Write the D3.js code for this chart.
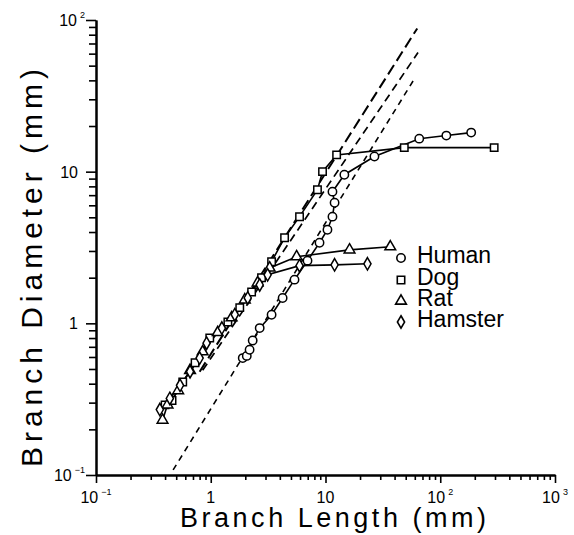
<!DOCTYPE html>
<html><head><meta charset="utf-8">
<script src="https://cdn.jsdelivr.net/npm/d3@7"></script>
<style>body{margin:0;background:#fff} svg{display:block}</style>
</head><body>
<svg id="c" width="574" height="535"></svg>
<script>
// ---- data (branch length mm, branch diameter mm) ----
const humanL = [1.90, 2.06, 2.18, 2.32, 2.67, 3.39, 4.23, 5.37, 6.97, 8.87, 10.4, 11.5, 12.0, 11.5, 14.6, 26.7, 65.6, 113, 186];
const humanD = [0.59, 0.61, 0.67, 0.77, 0.93, 1.14, 1.47, 1.94, 2.59, 3.40, 4.14, 5.05, 6.24, 7.38, 9.55, 12.6, 16.5, 17.3, 18.1];
const dogL = [0.40, 0.46, 0.57, 0.73, 0.98, 1.41, 1.79, 2.27, 2.77, 3.39, 4.40, 5.94, 8.51, 9.42, 12.5, 48.6, 295];
const dogD = [0.29, 0.31, 0.41, 0.55, 0.80, 1.02, 1.27, 1.61, 2.00, 2.55, 3.67, 5.05, 7.60, 10.0, 12.9, 14.4, 14.4];
const ratL = [0.38, 0.42, 0.52, 0.66, 0.85, 1.15, 1.52, 1.98, 2.56, 3.26, 5.60, 16.2, 36.7];
const ratD = [0.23, 0.29, 0.36, 0.49, 0.65, 0.87, 1.09, 1.43, 1.85, 2.32, 2.75, 3.05, 3.20];
const hamsterL = [0.36, 0.44, 0.54, 0.66, 0.80, 0.92, 1.25, 1.62, 2.10, 2.67, 3.13, 5.94, 12.0, 23.2];
const hamsterD = [0.27, 0.32, 0.39, 0.48, 0.59, 0.74, 0.93, 1.14, 1.47, 1.79, 2.09, 2.40, 2.43, 2.47];
// dashed fit lines (endpoints)
const fitAL = [0.80, 63], fitAD = [0.48, 88];
const fitBL = [0.85, 64], fitBD = [0.49, 61];
const fitCL = [0.47, 59], fitCD = [0.108, 40.5];

const seriesNames = ["Human", "Dog", "Rat", "Hamster"];
const xMajor = [0.1, 1, 10, 100, 1000];
const xMajorBase = ["10", "1", "10", "10", "10"];
const xMajorSup = ["\u22121", "", "", "2", "3"];
const yMajor = [0.1, 1, 10, 100];
const yMajorBase = ["10", "1", "10", "10"];
const yMajorSup = ["\u22121", "", "", "2"];
const xTitle = "Branch Length (mm)";
const yTitle = "Branch Diameter (mm)";

// ---- drawing ----
const svg = d3.select("#c");
const FONT = "'Liberation Sans', Arial, sans-serif";
const x = d3.scaleLog().domain([0.1, 1000]).range([96, 555]);
const y = d3.scaleLog().domain([0.1, 100]).range([475, 20]);

function minorTicks(dom) {
  const out = [];
  for (let e = Math.log10(dom[0]); e < Math.log10(dom[1]); e++)
    for (let k = 2; k <= 9; k++) out.push(k * Math.pow(10, e));
  return out;
}

// axes
const gx = svg.append("g").attr("transform", "translate(0,475)");
gx.call(d3.axisBottom(x).tickValues(minorTicks(x.domain())).tickSize(5).tickSizeOuter(0).tickFormat(""));
gx.append("g").call(d3.axisBottom(x).tickValues(xMajor).tickSize(8).tickSizeOuter(0).tickFormat(""));
const gy = svg.append("g").attr("transform", "translate(96,0)");
gy.call(d3.axisLeft(y).tickValues(minorTicks(y.domain())).tickSize(7).tickSizeOuter(0).tickFormat(""));
gy.append("g").call(d3.axisLeft(y).tickValues(yMajor).tickSize(10).tickSizeOuter(0).tickFormat(""));
svg.selectAll(".domain").attr("stroke", "#000").attr("stroke-width", 2);
svg.selectAll(".tick line").attr("stroke", "#000").attr("stroke-width", 1.6);

// tick labels
xMajor.forEach((v, i) => {
  const t = svg.append("text").attr("x", x(v)).attr("y", 503)
    .attr("text-anchor", "middle").attr("font-family", FONT).attr("font-size", 16).attr("fill", "#000");
  t.append("tspan").text(xMajorBase[i]);
  if (xMajorSup[i]) t.append("tspan").attr("dx", 3).attr("dy", -8).attr("font-size", 9).text(xMajorSup[i]);
});
yMajor.forEach((v, i) => {
  const sup = yMajorSup[i];
  const t = svg.append("text").attr("x", sup ? 85 : 78).attr("y", y(v) + 6)
    .attr("text-anchor", "end").attr("font-family", FONT).attr("font-size", 16).attr("fill", "#000");
  t.append("tspan").text(yMajorBase[i]);
  if (sup) t.append("tspan").attr("dx", 3).attr("dy", -8).attr("font-size", 9).text(sup);
});

// axis titles
svg.append("text").attr("x", 180).attr("y", 527).attr("font-family", FONT).attr("font-size", 27)
  .attr("textLength", 306).attr("lengthAdjust", "spacing").attr("fill", "#000").text(xTitle);
svg.append("text").attr("transform", "translate(42,467) rotate(-90)").attr("font-family", FONT).attr("font-size", 30)
  .attr("textLength", 398).attr("lengthAdjust", "spacing").attr("fill", "#000").text(yTitle);

// dashed fit lines
const fits = [
  {L: fitAL, D: fitAD, dash: "11,5", w: 2},
  {L: fitBL, D: fitBD, dash: "8,5", w: 1.7},
  {L: fitCL, D: fitCD, dash: "6,5", w: 1.6}
];
fits.forEach(f => {
  svg.append("line").attr("x1", x(f.L[0])).attr("y1", y(f.D[0])).attr("x2", x(f.L[1])).attr("y2", y(f.D[1]))
    .attr("stroke", "#000").attr("stroke-width", f.w).attr("stroke-dasharray", f.dash);
});

// series
const series = [
  {L: humanL, D: humanD, sym: d3.symbolCircle, size: 55},
  {L: dogL, D: dogD, sym: d3.symbolSquare, size: 55},
  {L: ratL, D: ratD, sym: d3.symbolTriangle, size: 50},
  {L: hamsterL, D: hamsterD, sym: d3.symbolDiamond, size: 45}
];
const line = d3.line().x(d => x(d[0])).y(d => y(d[1]));
series.forEach(s => {
  const pts = s.L.map((l, i) => [l, s.D[i]]);
  svg.append("path").attr("d", line(pts)).attr("fill", "none").attr("stroke", "#000").attr("stroke-width", 1.6);
});
series.forEach(s => {
  const pts = s.L.map((l, i) => [l, s.D[i]]);
  svg.append("g").selectAll("path").data(pts).join("path")
    .attr("transform", d => `translate(${x(d[0])},${y(d[1])})`)
    .attr("d", d3.symbol().type(s.sym).size(s.size))
    .attr("fill", "#fff").attr("stroke", "#000").attr("stroke-width", 1.5);
});

// legend
const legY = [263, 285, 306, 327];
seriesNames.forEach((n, i) => {
  svg.append("path").attr("transform", `translate(401,${legY[i] - 5})`)
    .attr("d", d3.symbol().type(series[i].sym).size(series[i].size))
    .attr("fill", "#fff").attr("stroke", "#000").attr("stroke-width", 1.6);
  svg.append("text").attr("x", 417).attr("y", legY[i]).attr("font-family", FONT).attr("font-size", 23)
    .attr("fill", "#000").text(n);
});
</script>
</body></html>
